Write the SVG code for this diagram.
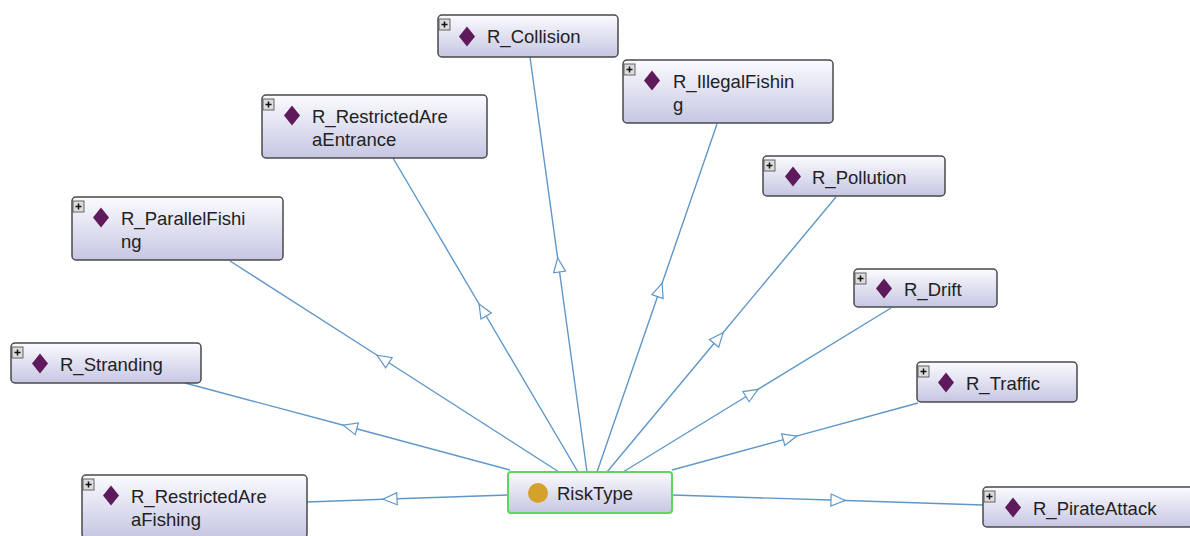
<svg xmlns="http://www.w3.org/2000/svg" xmlns:xlink="http://www.w3.org/1999/xlink" width="1190" height="536" viewBox="0 0 1190 536">
<style>
.box{fill:url(#g);stroke:#4a4a4a;stroke-width:1.5}
.root{fill:url(#g);stroke:#5cd65c;stroke-width:2}
.t{font-family:"Liberation Sans",Arial,sans-serif;font-size:18.5px;fill:#222}
.e{fill:none;stroke:#5f97c9;stroke-width:1.4;marker-mid:url(#tri)}
.pb{fill:#dcdcdc;stroke:#555;stroke-width:0.9}
.pl{stroke:#111;stroke-width:1.5}
.dm{fill:#5e1a5a}
</style>
<defs>
<linearGradient id="g" x1="0" y1="0" x2="0" y2="1">
<stop offset="0" stop-color="#fbfbff"/>
<stop offset="1" stop-color="#c6c6e3"/>
</linearGradient>
<marker id="tri" markerWidth="18" markerHeight="16" refX="8" refY="7" orient="auto" markerUnits="userSpaceOnUse">
<path d="M1,1 L15,7 L1,13 Z" fill="#fff" stroke="#5f97c9" stroke-width="1.2"/>
</marker>
<g id="plus"><rect class="pb" x="0" y="0" width="11" height="11"/><path class="pl" d="M2.5,5.5 H8.5 M5.5,2.5 V8.5"/></g>
<path id="dia" class="dm" d="M0,-10 L8,0 L0,10 L-8,0 Z"/>
</defs>
<rect width="1190" height="536" fill="#fff"/>
<g id="connectors">
<path class="e" d="M587,472 L558.6,265 L530,57"/>
<path class="e" d="M578,472 L482.6,310 L393,158"/>
<path class="e" d="M597,472 L659.8,290 L717,124"/>
<path class="e" d="M607,472 L718.6,338 L836,197"/>
<path class="e" d="M559,472 L383,359 L230,261"/>
<path class="e" d="M623,472 L752,393 L891,308"/>
<path class="e" d="M510,470 L350,427 L185,383"/>
<path class="e" d="M672,470 L790,437.9 L918,403"/>
<path class="e" d="M508,495 L390,499 L307,502"/>
<path class="e" d="M672,495 L838,500.3 L983,505"/>
</g>
<g id="n_collision">
<rect class="box" x="438" y="15" width="180" height="42" rx="4"/>
<use xlink:href="#plus" x="439" y="19"/>
<use xlink:href="#dia" x="467" y="36.5"/>
<text class="t" x="487" y="43">R_Collision</text>
</g>
<g id="n_illegalfishing">
<rect class="box" x="623" y="60" width="210" height="63" rx="4"/>
<use xlink:href="#plus" x="624" y="64"/>
<use xlink:href="#dia" x="652" y="80.5"/>
<text class="t" x="673" y="88">R_IllegalFishin</text>
<text class="t" x="673" y="111">g</text>
</g>
<g id="n_restrictedareaentrance">
<rect class="box" x="262" y="95" width="225" height="63" rx="4"/>
<use xlink:href="#plus" x="263" y="99"/>
<use xlink:href="#dia" x="292" y="115.5"/>
<text class="t" x="312" y="123">R_RestrictedAre</text>
<text class="t" x="312" y="146">aEntrance</text>
</g>
<g id="n_pollution">
<rect class="box" x="763" y="156" width="182" height="40" rx="4"/>
<use xlink:href="#plus" x="764" y="160"/>
<use xlink:href="#dia" x="793" y="176.5"/>
<text class="t" x="812" y="183.5">R_Pollution</text>
</g>
<g id="n_parallelfishing">
<rect class="box" x="72" y="197" width="211" height="63" rx="4"/>
<use xlink:href="#plus" x="73" y="201"/>
<use xlink:href="#dia" x="101" y="217.5"/>
<text class="t" x="121" y="225">R_ParallelFishi</text>
<text class="t" x="121" y="248">ng</text>
</g>
<g id="n_drift">
<rect class="box" x="854" y="269" width="143" height="38" rx="4"/>
<use xlink:href="#plus" x="855" y="273"/>
<use xlink:href="#dia" x="884" y="288.5"/>
<text class="t" x="904" y="296">R_Drift</text>
</g>
<g id="n_traffic">
<rect class="box" x="917" y="362" width="160" height="40" rx="4"/>
<use xlink:href="#plus" x="918" y="366"/>
<use xlink:href="#dia" x="946" y="382.5"/>
<text class="t" x="966" y="389.5">R_Traffic</text>
</g>
<g id="n_stranding">
<rect class="box" x="11" y="343" width="190" height="40" rx="4"/>
<use xlink:href="#plus" x="12" y="347"/>
<use xlink:href="#dia" x="40" y="363.5"/>
<text class="t" x="60" y="370.5">R_Stranding</text>
</g>
<g id="n_restrictedareafishing">
<rect class="box" x="82" y="475" width="225" height="63" rx="4"/>
<use xlink:href="#plus" x="83" y="479"/>
<use xlink:href="#dia" x="111" y="495.5"/>
<text class="t" x="131" y="503">R_RestrictedAre</text>
<text class="t" x="131" y="526">aFishing</text>
</g>
<g id="n_pirateattack">
<rect class="box" x="983" y="487" width="215" height="40" rx="4"/>
<use xlink:href="#plus" x="984" y="491"/>
<use xlink:href="#dia" x="1013" y="507.5"/>
<text class="t" x="1033" y="514.5">R_PirateAttack</text>
</g>
<g id="n_risktype">
<rect class="root" x="508" y="472" width="164" height="41" rx="3"/>
<circle cx="538" cy="493" r="10" fill="#d4a22b"/>
<text class="t" x="557" y="499.5">RiskType</text>
</g>
</svg>
